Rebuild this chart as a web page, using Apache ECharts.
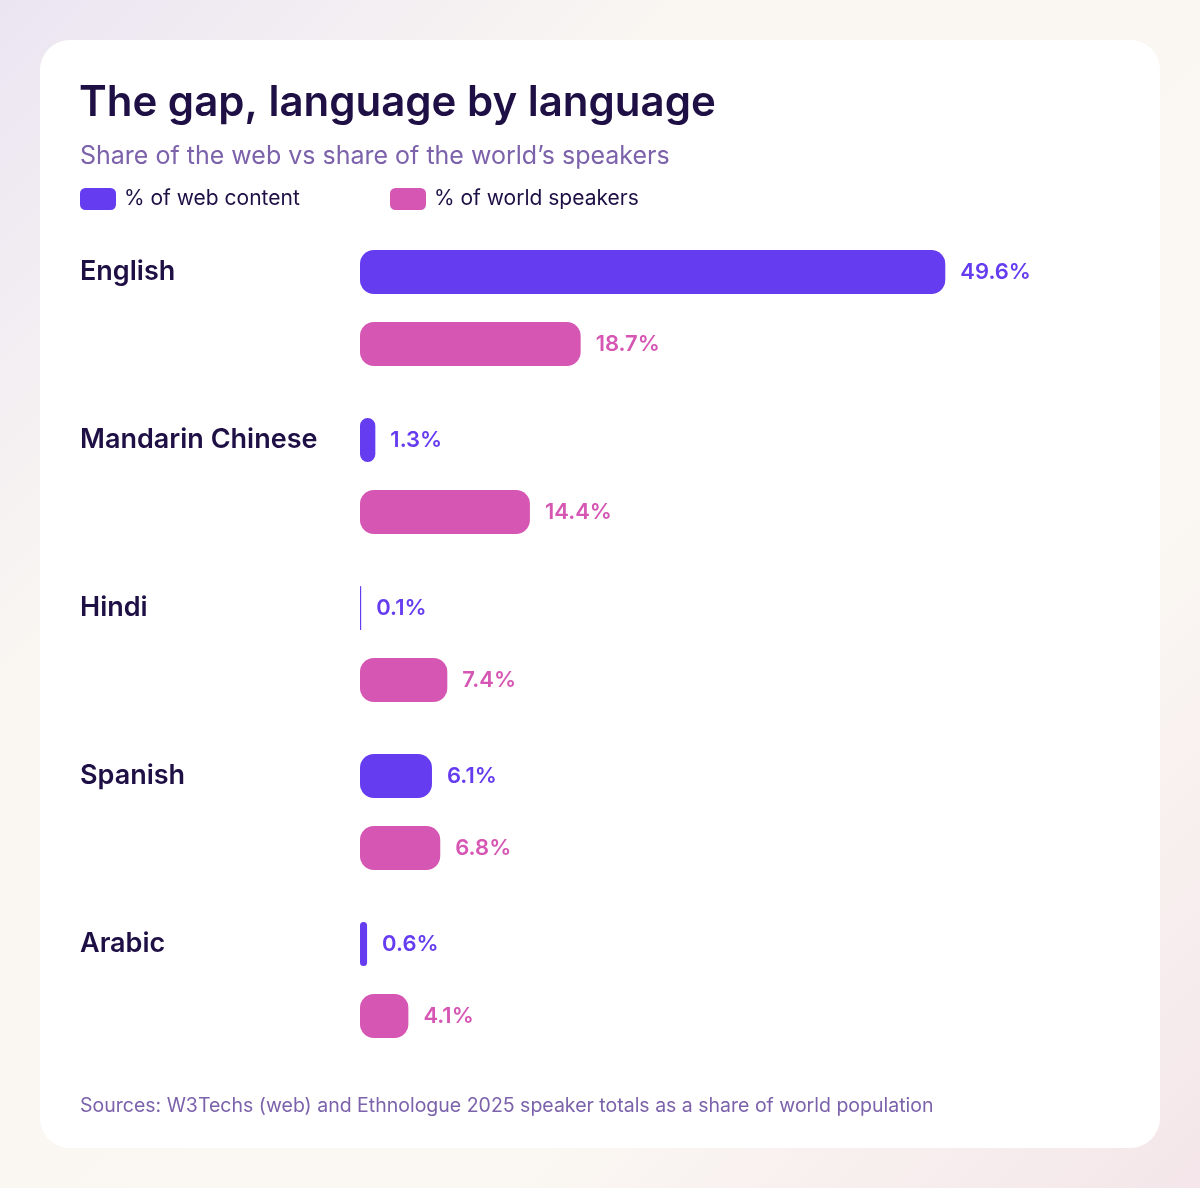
<!DOCTYPE html>
<html>
<head>
<meta charset="utf-8">
<script src="https://cdn.jsdelivr.net/npm/echarts@6/dist/echarts.min.js"></script>
<style>
    html, body { margin: 0; padding: 0; }
    body {
        width: 1200px; height: 1188px; position: relative; overflow: hidden;
        background: linear-gradient(135deg, #ebe5f2 0%, #faf7f2 30%, #fbf8f3 70%, #f4e6ea 100%);
    }
    #card {
        position: absolute; left: 40px; top: 40px; width: 1120px; height: 1108px;
        background: #ffffff; border-radius: 30px;
    }
    #main_chart { position: absolute; left: 0; top: 0; width: 1200px; height: 1188px; }
</style>
</head>
<body>
<div id="card"></div>
<div id="main_chart"></div>
<script>
// 语言分类与两组数据
var languages = ["English", "Mandarin Chinese", "Hindi", "Spanish", "Arabic"];
var webContent = [49.6, 1.3, 0.1, 6.1, 0.6];
var worldSpeakers = [18.7, 14.4, 7.4, 6.8, 4.1];
var seriesNames = ["% of web content", "% of world speakers"];

var webColor = "#663cf0";
var speakerColor = "#d656b3";
var fontName = "Inter";

var chart = echarts.init(document.getElementById("main_chart"));

function valueLabel(color){
    return {
        show: true,
        position: "right",
        distance: 15,
        color: color,
        fontFamily: fontName,
        fontWeight: 600,
        fontSize: 22,
        formatter: function(p){ return p.value.toFixed(1) + "%"; }
    };
}

function legendAt(left, name){
    return {
        left: left, top: 188, padding: 0,
        icon: "roundRect",
        itemWidth: 36, itemHeight: 22,
        selectedMode: false,
        textStyle: { color: "#1e0f45", fontFamily: fontName, fontSize: 21, padding: [0, 0, 0, 3] },
        data: [name]
    };
}

var option = {
    backgroundColor: "transparent",
    title: [{
        text: "The gap, language by language",
        left: 79, top: 82, padding: 0,
        textStyle: { color: "#1e0f45", fontFamily: fontName, fontWeight: 600, fontSize: 42 }
    }, {
        text: "Share of the web vs share of the world\u2019s speakers",
        left: 80, top: 144, padding: 0,
        textStyle: { color: "#7b62ab", fontFamily: fontName, fontWeight: "normal", fontSize: 25 }
    }, {
        text: "Sources: W3Techs (web) and Ethnologue 2025 speaker totals as a share of world population",
        left: 80, top: 1096, padding: 0,
        textStyle: { color: "#7b62ab", fontFamily: fontName, fontWeight: "normal", fontSize: 19.5 }
    }],
    legend: [legendAt(80, seriesNames[0]), legendAt(390, seriesNames[1])],
    grid: { left: 360, right: 132, top: 224, bottom: 124, containLabel: false },
    xAxis: {
        type: "value", min: 0, max: 60,
        show: false
    },
    yAxis: {
        type: "category",
        inverse: true,
        data: languages,
        axisLine: { show: false },
        axisTick: { show: false },
        splitLine: { show: false },
        axisLabel: {
            align: "left",
            verticalAlign: "bottom",
            lineHeight: 72,
            margin: 280,
            color: "#1e0f45",
            fontFamily: fontName,
            fontWeight: 600,
            fontSize: 27
        }
    },
    series: [{
        name: seriesNames[0],
        type: "bar",
        barWidth: 44,
        barGap: "63.6%",
        itemStyle: { color: webColor, borderRadius: 14 },
        label: valueLabel(webColor),
        data: webContent
    }, {
        name: seriesNames[1],
        type: "bar",
        barWidth: 44,
        itemStyle: { color: speakerColor, borderRadius: 14 },
        label: valueLabel(speakerColor),
        data: worldSpeakers
    }]
};
chart.setOption(option);
</script>
</body>
</html>
